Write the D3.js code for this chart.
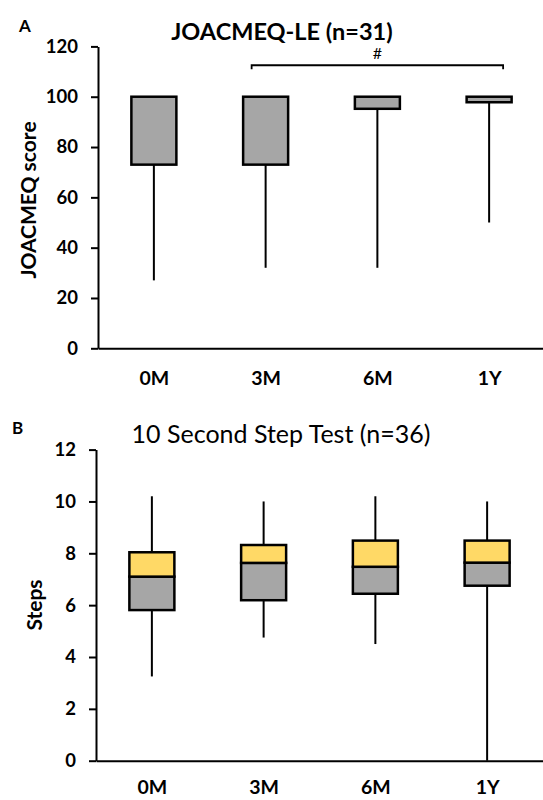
<!DOCTYPE html>
<html>
<head>
<meta charset="utf-8">
<script src="https://cdn.jsdelivr.net/npm/d3@7"></script>
<style>
  body { margin: 0; background: #fff; }
  text { font-family: Lato, "Open Sans", sans-serif; fill: #000; }
</style>
</head>
<body>
<div id="chart"></div>
<script>
// time points
const categories = ["0M", "3M", "6M", "1Y"];

// A: JOACMEQ-LE (n=31)
const joaMin    = [27, 32, 32, 50];
const joaQ1     = [73, 73, 95.2, 97.8];
const joaMedian = [100, 100, 100, 100];
const joaQ3     = [100, 100, 100, 100];
const joaMax    = [100, 100, 100, 100];
const joaTicks  = [0, 20, 40, 60, 80, 100, 120];

// B: 10 second step test (n=36)
const stepMin    = [3.25, 4.75, 4.5, 0];
const stepQ1     = [5.81, 6.19, 6.44, 6.75];
const stepMedian = [7.1, 7.63, 7.48, 7.64];
const stepQ3     = [8.04, 8.32, 8.49, 8.49];
const stepMax    = [10.2, 10.0, 10.2, 10.0];
const stepTicks  = [0, 2, 4, 6, 8, 10, 12];

// significance bracket in panel A
const bracketFrom = "3M", bracketTo = "1Y", bracketLabel = "#", bracketValue = 112.5;

const W = 543, H = 800;
const svg = d3.select("#chart").append("svg")
    .attr("width", W)
    .attr("height", H);

function drawPanel(o) {
    let g = svg.append("g");

    let x = d3.scalePoint()
        .domain(categories)
        .range([o.left, o.left + 447])
        .padding(0.5);

    let y = d3.scaleLinear()
        .domain([0, d3.max(o.ticks)])
        .range([o.bottom, o.top]);

    let rows = categories.map((c, i) => ({
        cat: c, min: o.min[i], q1: o.q1[i], med: o.med[i], q3: o.q3[i], max: o.max[i]
    }));

    let boxW = 45;

    // whiskers
    g.selectAll(".wlow").data(rows).enter().append("line")
        .attr("x1", d => x(d.cat)).attr("x2", d => x(d.cat))
        .attr("y1", d => y(d.min)).attr("y2", d => y(d.q1))
        .attr("stroke", "#000").attr("stroke-width", 2);
    g.selectAll(".whigh").data(rows).enter().append("line")
        .attr("x1", d => x(d.cat)).attr("x2", d => x(d.cat))
        .attr("y1", d => y(d.q3)).attr("y2", d => y(d.max))
        .attr("stroke", "#000").attr("stroke-width", 2);

    // lower box (q1 -> median)
    g.selectAll(".lower").data(rows.filter(d => d.med > d.q1)).enter().append("rect")
        .attr("x", d => x(d.cat) - boxW / 2)
        .attr("width", boxW)
        .attr("y", d => y(d.med))
        .attr("height", d => y(d.q1) - y(d.med))
        .attr("fill", "#a6a6a6")
        .attr("stroke", "#000").attr("stroke-width", 2.5);

    // upper box (median -> q3)
    g.selectAll(".upper").data(rows.filter(d => d.q3 > d.med)).enter().append("rect")
        .attr("x", d => x(d.cat) - boxW / 2)
        .attr("width", boxW)
        .attr("y", d => y(d.q3))
        .attr("height", d => y(d.med) - y(d.q3))
        .attr("fill", "#ffd966")
        .attr("stroke", "#000").attr("stroke-width", 2.5);

    // axes
    let yAxis = g.append("g")
        .attr("transform", `translate(${o.left},0)`)
        .call(d3.axisLeft(y).tickValues(o.ticks).tickSize(7).tickSizeOuter(0).tickPadding(13));
    yAxis.selectAll("text")
        .attr("font-size", "18.5px").attr("font-weight", "bold");

    let xAxis = g.append("g")
        .attr("transform", `translate(0,${o.bottom})`)
        .call(d3.axisBottom(x).tickSize(0).tickSizeOuter(0).tickPadding(o.xPad));
    xAxis.selectAll("text")
        .attr("font-size", "19.5px").attr("font-weight", "bold");

    g.selectAll(".domain, .tick line")
        .attr("stroke", "#000").attr("stroke-width", 2);
    g.selectAll(".tick text").attr("fill", "#000").style("font-family", "Lato, sans-serif");

    // titles
    g.append("text")
        .attr("x", o.titleX).attr("y", o.titleY)
        .attr("text-anchor", "middle")
        .attr("font-size", o.titleSize)
        .attr("font-weight", o.titleWeight)
        .text(o.title);

    g.append("text")
        .attr("x", o.letterX).attr("y", o.letterY)
        .attr("font-size", "17px").attr("font-weight", "bold")
        .text(o.letter);

    g.append("text")
        .attr("transform", `translate(${o.yTitleX},${o.yTitleY}) rotate(-90)`)
        .attr("text-anchor", "middle")
        .attr("font-size", o.yTitleSize).attr("font-weight", "bold")
        .text(o.yTitle);

    return {g, x, y};
}

let panelA = drawPanel({
    left: 98, top: 46.4, bottom: 348.3, ticks: joaTicks, xPad: 23,
    min: joaMin, q1: joaQ1, med: joaMedian, q3: joaQ3, max: joaMax,
    title: "JOACMEQ-LE (n=31)", titleX: 282, titleY: 40, titleSize: "23.5px", titleWeight: "bold",
    letter: "A", letterX: 19, letterY: 32,
    yTitle: "JOACMEQ score", yTitleX: 36, yTitleY: 200, yTitleSize: "21px"
});

// bracket for panel A
let bx1 = panelA.x(bracketFrom) - 14, bx2 = panelA.x(bracketTo) + 14, by = panelA.y(bracketValue);
panelA.g.append("path")
    .attr("d", `M${bx1},${by + 4}V${by}H${bx2}V${by + 4}`)
    .attr("fill", "none").attr("stroke", "#000").attr("stroke-width", 1.8);
panelA.g.append("text")
    .attr("x", (bx1 + bx2) / 2).attr("y", by - 6)
    .attr("text-anchor", "middle")
    .attr("font-size", "16px")
    .text(bracketLabel);

drawPanel({
    left: 96, top: 449.6, bottom: 760.7, ticks: stepTicks, xPad: 19,
    min: stepMin, q1: stepQ1, med: stepMedian, q3: stepQ3, max: stepMax,
    title: "10 Second Step Test (n=36)", titleX: 281, titleY: 443, titleSize: "25px", titleWeight: "normal",
    letter: "B", letterX: 12, letterY: 434,
    yTitle: "Steps", yTitleX: 42, yTitleY: 605, yTitleSize: "21px"
});
</script>
</body>
</html>
